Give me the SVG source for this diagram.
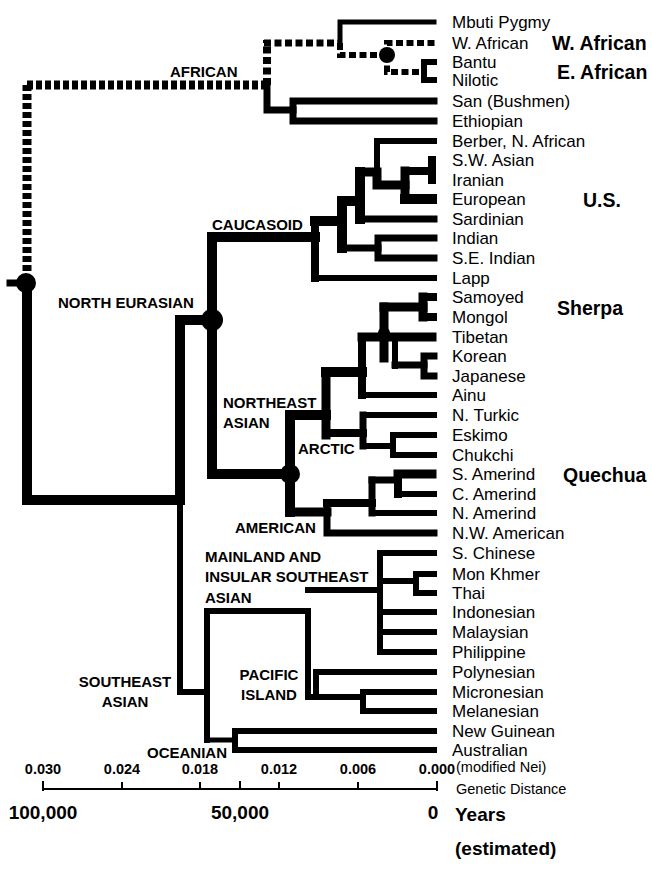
<svg xmlns="http://www.w3.org/2000/svg" width="652" height="870" viewBox="0 0 652 870">
<style>
.l{fill:none;stroke:#000;stroke-linecap:square;stroke-linejoin:miter}
.d{fill:none;stroke:#000;stroke-linecap:butt;stroke-dasharray:6 3}
.d2{fill:none;stroke:#000;stroke-linecap:butt;stroke-dasharray:7 3.5}
.w5{stroke-width:5}.w6{stroke-width:6}.w7{stroke-width:7}.w8{stroke-width:8}.w9{stroke-width:9}.w10{stroke-width:10}
.leaf{font-family:"Liberation Sans",Arial,sans-serif;font-size:17px;fill:#000}
.grp{font-family:"Liberation Sans",Arial,sans-serif;font-size:15px;font-weight:bold;fill:#000}
.big{font-family:"Liberation Sans",Arial,sans-serif;font-size:19.5px;font-weight:bold;fill:#000}
.ax{font-family:"Liberation Sans",Arial,sans-serif;font-size:14.5px;font-weight:bold;fill:#000;text-anchor:middle}
.axr{font-family:"Liberation Sans",Arial,sans-serif;font-size:14.5px;fill:#000}
.axb{font-family:"Liberation Sans",Arial,sans-serif;font-size:19px;font-weight:bold;fill:#000}
</style>
<rect width="652" height="870" fill="#fff"/>
<g id="connectors">
  <!-- African (dashed) -->
  <path class="d w9" d="M27,85 V272"/>
  <path class="d w9" d="M27,85 H267"/>
  <path class="d2 w8" d="M267,85 V40"/>
  <path class="d2 w7" d="M264,43 H340"/>
  <path class="l w5" d="M340,43 V22 H434"/>
  <path class="d2 w6" d="M340,43 V55 H387"/>
  <path class="d2 w6" d="M387,55 V43 H437"/>
  <path class="d2 w6" d="M387,55 V72 H424"/>
  <path class="l w6" d="M434,62 H424 V80 H434"/>
  <path class="l w7" d="M267,85 V110 H293"/>
  <path class="l w7" d="M434,101 H293 V121 H434"/>
  <!-- root -->
  <path class="l w7" d="M10,283 H26"/>
  <path class="l w10" d="M27,283 V500 H180 V320 H212"/>
  <path class="l w6" d="M180,500 V692 H207"/>
  <!-- Caucasoid -->
  <path class="l w10" d="M212,474 V237 H315"/>
  <path class="l w8" d="M315,221 V278"/>
  <path class="l w6" d="M315,278 H434"/>
  <path class="l w10" d="M315,221 H342 V248"/>
  <path class="l w10" d="M342,221 V201 H360"/>
  <path class="l w7" d="M342,248 H378"/>
  <path class="l w7" d="M434,238 H378 V258 H434"/>
  <path class="l w10" d="M360,172 V219"/>
  <path class="l w7" d="M360,219 H434"/>
  <path class="l w9" d="M360,172 H377 V185 H405"/>
  <path class="l w6" d="M377,172 V141 H434"/>
  <path class="l w9" d="M405,171 V199"/>
  <path class="l w10" d="M405,199 H432"/>
  <path class="l w8" d="M405,171 H431"/>
  <path class="l w8" d="M432,160 V180"/>
  <!-- Northeast Asian -->
  <path class="l w10" d="M212,474 H290"/>
  <path class="l w10" d="M290,415 V512"/>
  <path class="l w10" d="M290,415 H326"/>
  <path class="l w9" d="M326,372 V435"/>
  <path class="l w10" d="M326,372 H362"/>
  <path class="l w8" d="M362,337 V395"/>
  <path class="l w6" d="M362,395 H434"/>
  <path class="l w9" d="M362,337 H432"/>
  <path class="l w9" d="M384,307 V358"/>
  <path class="l w9" d="M384,307 H423"/>
  <path class="l w9" d="M423,297 V317"/>
  <path class="l w8" d="M423,297 H433"/>
  <path class="l w8" d="M423,317 H433"/>
  <path class="l w6" d="M395,340 V366"/>
  <path class="l w7" d="M395,365 H424"/>
  <path class="l w7" d="M434,356 H424 V376 H434"/>
  <!-- Arctic -->
  <path class="l w8" d="M326,433 H363"/>
  <path class="l w7" d="M363,415 V446"/>
  <path class="l w6" d="M363,415 H434"/>
  <path class="l w6" d="M363,446 H393"/>
  <path class="l w6" d="M434,435 H393 V455 H434"/>
  <!-- American -->
  <path class="l w9" d="M290,512 H327"/>
  <path class="l w7" d="M327,503 V533 H434"/>
  <path class="l w8" d="M327,503 H372"/>
  <path class="l w7" d="M372,480 V513"/>
  <path class="l w6" d="M372,513 H434"/>
  <path class="l w7" d="M372,480 H398"/>
  <path class="l w8" d="M398,474 V494"/>
  <path class="l w9" d="M398,474 H432"/>
  <path class="l w6" d="M398,494 H434"/>
  <!-- Southeast Asian -->
  <path class="l w6" d="M207,611 V740"/>
  <path class="l w6" d="M207,611 H308 V697 H363"/>
  <path class="l w6" d="M308,590 H380"/>
  <path class="l w6" d="M434,553 H380 V652 H434"/>
  <path class="l w6" d="M380,612 H434"/>
  <path class="l w6" d="M380,632 H434"/>
  <path class="l w6" d="M380,581 H416"/>
  <path class="l w6" d="M434,574 H416 V593 H434"/>
  <path class="l w6" d="M434,692 H363 V711 H434"/>
  <path class="l w6" d="M316,697 V672 H434"/>
  <path class="l w5" d="M207,740 H235"/>
  <path class="l w6" d="M434,731 H235 V750 H434"/>
</g>
<g id="junctions">
  <circle cx="26" cy="283" r="10"/>
  <circle cx="212" cy="320" r="11"/>
  <circle cx="290" cy="474" r="10"/>
  <circle cx="384" cy="333" r="6"/>
  <circle cx="387" cy="55" r="8"/>
</g>
<g id="leaves" class="leaf">
  <text x="452" y="28">Mbuti Pygmy</text>
  <text x="452" y="49">W. African</text>
  <text x="452" y="68">Bantu</text>
  <text x="452" y="86">Nilotic</text>
  <text x="452" y="107">San (Bushmen)</text>
  <text x="452" y="127">Ethiopian</text>
  <text x="452" y="147">Berber, N. African</text>
  <text x="452" y="166">S.W. Asian</text>
  <text x="452" y="186">Iranian</text>
  <text x="452" y="205">European</text>
  <text x="452" y="225">Sardinian</text>
  <text x="452" y="244">Indian</text>
  <text x="452" y="264">S.E. Indian</text>
  <text x="452" y="284">Lapp</text>
  <text x="452" y="303">Samoyed</text>
  <text x="452" y="323">Mongol</text>
  <text x="452" y="343">Tibetan</text>
  <text x="452" y="362">Korean</text>
  <text x="452" y="382">Japanese</text>
  <text x="452" y="401">Ainu</text>
  <text x="452" y="421">N. Turkic</text>
  <text x="452" y="441">Eskimo</text>
  <text x="452" y="461">Chukchi</text>
  <text x="452" y="480">S. Amerind</text>
  <text x="452" y="500">C. Amerind</text>
  <text x="452" y="519">N. Amerind</text>
  <text x="452" y="539">N.W. American</text>
  <text x="452" y="559">S. Chinese</text>
  <text x="452" y="580">Mon Khmer</text>
  <text x="452" y="599">Thai</text>
  <text x="452" y="618">Indonesian</text>
  <text x="452" y="638">Malaysian</text>
  <text x="452" y="658">Philippine</text>
  <text x="452" y="678">Polynesian</text>
  <text x="452" y="698">Micronesian</text>
  <text x="452" y="717">Melanesian</text>
  <text x="452" y="737">New Guinean</text>
  <text x="452" y="756">Australian</text>
</g>
<g id="groups" class="grp">
  <text x="170" y="77">AFRICAN</text>
  <text x="212" y="230">CAUCASOID</text>
  <text x="58" y="308">NORTH EURASIAN</text>
  <text x="223" y="408">NORTHEAST</text>
  <text x="223" y="428">ASIAN</text>
  <text x="298" y="454">ARCTIC</text>
  <text x="235" y="533">AMERICAN</text>
  <text x="205" y="562">MAINLAND AND</text>
  <text x="205" y="582">INSULAR SOUTHEAST</text>
  <text x="205" y="603">ASIAN</text>
  <text x="269" y="680" text-anchor="middle">PACIFIC</text>
  <text x="269" y="700" text-anchor="middle">ISLAND</text>
  <text x="125" y="687" text-anchor="middle">SOUTHEAST</text>
  <text x="125" y="707" text-anchor="middle">ASIAN</text>
  <text x="147" y="758">OCEANIAN</text>
</g>
<g id="populations" class="big">
  <text x="552" y="50">W. African</text>
  <text x="557" y="79">E. African</text>
  <text x="583" y="207">U.S.</text>
  <text x="557" y="315">Sherpa</text>
  <text x="563" y="482">Quechua</text>
</g>
<g id="axis">
  <path class="l" stroke-width="2" stroke-linecap="butt" d="M43,789 H437 M43,782 V790 M122,783 V789 M200,783 V789 M240,782 V789 M279,783 V789 M358,783 V789 M437,782 V790"/>
  <text class="ax" x="43" y="774">0.030</text>
  <text class="ax" x="122" y="774">0.024</text>
  <text class="ax" x="200" y="774">0.018</text>
  <text class="ax" x="279" y="774">0.012</text>
  <text class="ax" x="358" y="774">0.006</text>
  <text class="ax" x="437" y="774">0.000</text>
  <text class="axr" x="456" y="772">(modified Nei)</text>
  <text class="axr" x="456" y="794">Genetic Distance</text>
  <text class="axb" x="43" y="819" text-anchor="middle">100,000</text>
  <text class="axb" x="240" y="819" text-anchor="middle">50,000</text>
  <text class="axb" x="433" y="819" text-anchor="middle">0</text>
  <text class="axb" x="455" y="821">Years</text>
  <text class="axb" x="455" y="855">(estimated)</text>
</g>
</svg>
